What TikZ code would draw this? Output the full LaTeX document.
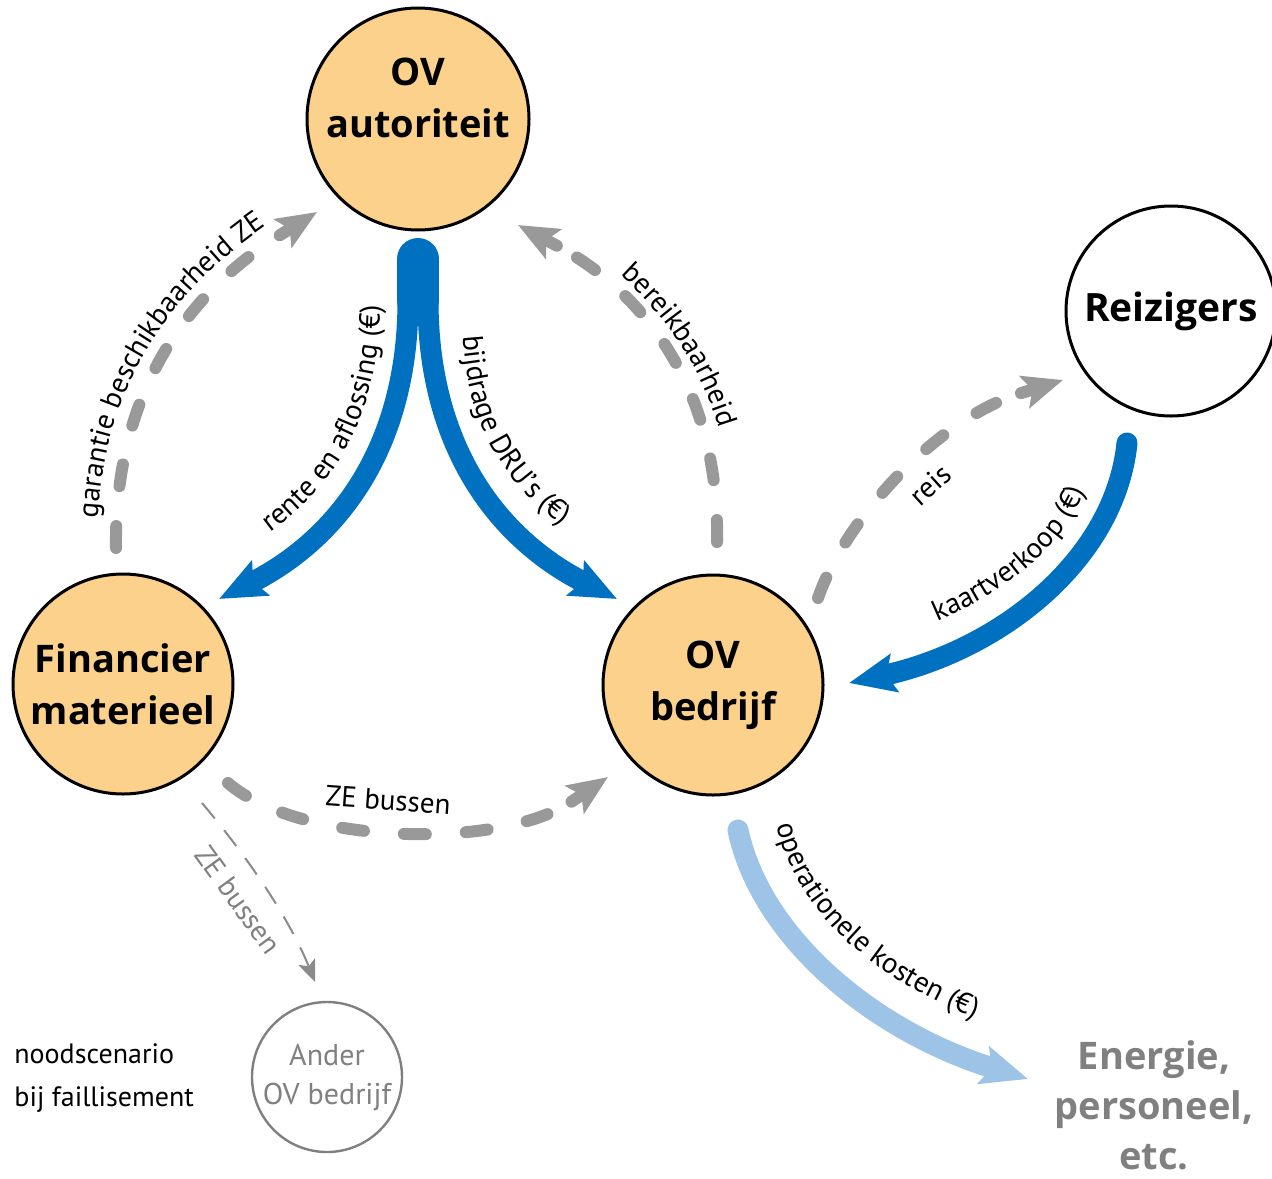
\documentclass[tikz,border=0pt]{standalone}
\usepackage{fontspec}
\setmainfont{PT Sans}
\newfontfamily\osans{Open Sans}
\usetikzlibrary{arrows.meta,calc,decorations.text}
\definecolor{ovorange}{RGB}{251,209,139}
\definecolor{ovblue}{RGB}{0,112,192}
\definecolor{ovlight}{RGB}{157,195,230}
\definecolor{ovgray}{RGB}{153,153,153}
\definecolor{ovtext}{RGB}{128,128,128}
\newcommand\nodefont{\osans\bfseries\fontsize{19}{26}\selectfont}
\newcommand\lblfont{\fontsize{14.5}{17}\selectfont}
\begin{document}
\begin{tikzpicture}[x=0.5pt,y=-0.5pt,
  actorbox/.style={circle, draw=black, line width=1.5pt, fill=ovorange, inner sep=0pt,
    minimum size=#1, font=\nodefont, align=center, text=black},
  blueflow/.style={draw=ovblue, line width=10.5pt, line cap=round,
    -{Stealth[length=23pt,width=19pt,inset=4pt]}},
  grayflow/.style={draw=ovgray, line width=6pt, line cap=round,
    dash pattern=on 11pt off 20pt, shorten >=22pt},
  graytip/.style={draw=ovgray, line width=6pt, line cap=round,
    -{Stealth[length=20pt,width=16.5pt,inset=4pt]}},
  thinflow/.style={draw=ovgray!90!black, line width=1pt,
    dash pattern=on 10pt off 7.5pt, -{Stealth[length=11pt,width=9pt,inset=2.5pt]}},
  lbl/.style={font=\lblfont, inner sep=0pt},
]
\useasboundingbox (0,0) rectangle (1272,1178);

% nodes
\node[actorbox=111pt] (aut) at (418,119) {};
\node[font=\nodefont, align=center, inner sep=0pt] (autT) at (418,98) {OV\\autoriteit};
\node[actorbox=110pt] (fin) at (123,684) {Financier\\materieel};
\node[actorbox=110pt] (bed) at (713,685) {OV\\bedrijf};
\node[circle, draw=black, line width=1.5pt, fill=white, minimum size=105pt, inner sep=0pt,
  font=\osans\bfseries\fontsize{19.5}{22}\selectfont] (rei) at (1171,311) {Reizigers};
\node[circle, draw=ovtext, line width=1.2pt, minimum size=75pt, inner sep=0pt, text=ovtext,
  font=\fontsize{15}{19.5}\selectfont, align=center] (and) at (327,1077) {Ander\\OV bedrijf};
\node[text=ovtext, font=\osans\bfseries\fontsize{19}{25}\selectfont, align=center, inner sep=0pt]
  (ene) at (1154,1105) {Energie,\\personeel,\\etc.};
\node[anchor=west, inner sep=0pt, font=\fontsize{14}{21.5}\selectfont, align=left]
  (nood) at (14,1078) {noodscenario\\bij faillisement};

% blue flows from OV autoriteit
\draw[draw=ovblue, line width=21pt, line cap=round] ($(aut)+(0,140)$) -- ($(aut)+(0,181)$);
\draw[blueflow] ($(aut)+(-10,181)$) .. controls (408,450) and (336,540) .. ($(fin)+(96,-85)$);
\draw[blueflow] ($(aut)+(10,181)$) .. controls (428,450) and (500,540) .. ($(bed)+(-96,-86)$);
\path[decorate, decoration={text along path, text={|\lblfont|rente en aflossing (€)},
  text align={left indent=38pt}}]
  (205,571) .. controls (316,518) and (380,440) .. (380,300);
\path[decorate, decoration={text along path, text={|\lblfont|bijdrage DRU’s (€)},
  text align={left indent=13pt}}]
  (462,310) .. controls (462,450) and (526,515) .. (634,568);

% kaartverkoop
\draw[blueflow] ($(rei)+(-44,132)$) .. controls (1115,560) and (1000,650) .. ($(bed)+(136,-2)$);
\path[decorate, decoration={text along path, text={|\lblfont|kaartverkoop (€)},
  text align={left indent=50pt}}]
  (842,651) .. controls (993,618) and (1092,538) .. (1096,440);

% operationele kosten
\draw[blueflow, draw=ovlight] ($(bed)+(25,145)$) .. controls (760,935) and (870,1030) .. ($(bed)+(315,394)$);
\path[decorate, decoration={text along path, text={|\lblfont|operationele kosten (€)},
  text align={left indent=2pt}}]
  (776,822) .. controls (798,925) and (897,1000) .. (1040,1040);

% dashed gray flows
\draw[grayflow] ($(fin)+(-7,-136)$) .. controls (114,380) and (200,285) .. ($(aut)+(-101,93)$);
\draw[graytip] ($($(aut)+(-101,93)$)!22pt!(200,285)$) -- ($(aut)+(-101,93)$);
\path[decorate, decoration={text along path, text={|\lblfont|garantie beschikbaarheid ZE},
  text align={left indent=15pt}}]
  (97,548) .. controls (96,390) and (170,285) .. (290,210);

\draw[grayflow] ($(bed)+(4,-143)$) .. controls (720,385) and (640,290) .. ($(aut)+(100,106)$);
\draw[graytip] ($($(aut)+(100,106)$)!22pt!(640,290)$) -- ($(aut)+(100,106)$);
\path[decorate, decoration={text along path, text={|\lblfont|bereikbaarheid},
  text align={left indent=57pt}}]
  (527,210) .. controls (651,277) and (737,382) .. (734,542);

\draw[grayflow] ($(bed)+(105,-87)$) .. controls (845,520) and (935,420) .. ($(rei)+(-108,69)$);
\draw[graytip] ($($(rei)+(-108,69)$)!22pt!(935,420)$) -- ($(rei)+(-108,69)$);
\node[lbl, rotate=42] (reisL) at (930,485) {reis};

\draw[grayflow] ($(fin)+(105,99)$) .. controls (300,845) and (500,850) .. ($(bed)+(-105,92)$);
\draw[graytip] ($($(bed)+(-105,92)$)!22pt!(500,850)$) -- ($(bed)+(-105,92)$);
\node[lbl, rotate=-4] (zeL) at (388,800) {ZE bussen};

% emergency scenario
\draw[thinflow] ($(fin)+(79,119)$) .. controls (250,860) and (290,920) .. ($(and)+(-12,-95)$);
\node[lbl, text=ovtext, rotate=-54] (ze2L) at (238,900) {ZE bussen};
\end{tikzpicture}
\end{document}
